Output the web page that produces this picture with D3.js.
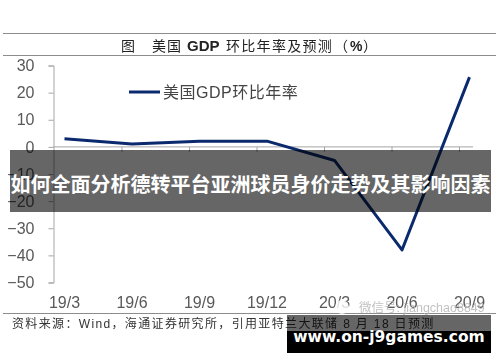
<!DOCTYPE html>
<html>
<head>
<meta charset="utf-8">
<script src="https://cdn.jsdelivr.net/npm/d3@7"></script>
<style>
  html, body { margin: 0; padding: 0; background: #fff; }
  svg { display: block; }
  text { font-family: "Liberation Sans", "Noto Sans CJK SC", sans-serif; }
</style>
</head>
<body>
<div id="chart"></div>
<script>
// values
const quarters = ["19/3", "19/6", "19/9", "19/12", "20/3", "20/6", "20/9"];
const gdpRate = [3, 1.1, 2.1, 2.1, -5, -38, 25.7];
const yTicks = [30, 20, 10, 0, -10, -20, -30, -40, -50];

const width = 500, height = 362;

const svg = d3.select("#chart").append("svg")
  .attr("width", width)
  .attr("height", height);

// the source picture is a soft screenshot, overlays on top stay sharp
const chart = svg.append("g").style("filter", "blur(0.4px)");

const x = d3.scalePoint().domain(quarters).range([64.5, 469.5]);
const y = d3.scaleLinear().domain([-50, 30]).range([282.5, 65.5]);

// Rules around the title and under the chart
[33.5, 55.5, 313.5].forEach(ry => {
  chart.append("line")
    .attr("x1", 3).attr("x2", 496)
    .attr("y1", ry).attr("y2", ry)
    .attr("stroke", "#8c8c8c")
    .attr("stroke-width", 1.2);
});

// Title
const title = chart.append("text")
  .attr("y", 51)
  .attr("font-size", 14)
  .attr("fill", "#222");
title.append("tspan").attr("x", 121).text("图");
title.append("tspan").attr("x", 152).attr("letter-spacing", 1).text("美国");
title.append("tspan").attr("x", 187).attr("font-weight", "bold").attr("font-size", 15).text("GDP");
title.append("tspan").attr("x", 226).attr("letter-spacing", 1.3).text("环比年率及预测");
title.append("tspan").attr("x", 334).text("（");
title.append("tspan").attr("x", 350).attr("font-weight", "bold").attr("font-size", 14).text("%");
title.append("tspan").attr("x", 363).text("）");

// Y axis
const yAxis = chart.append("g")
  .attr("transform", "translate(53.5,0)")
  .call(d3.axisLeft(y).tickValues(yTicks).tickSize(5).tickPadding(14));
yAxis.selectAll("path, line").attr("stroke", "#a6a6a6");
yAxis.selectAll("text").attr("font-size", 16).attr("fill", "#595959");

// X axis line at zero, tick marks sit between the labels
const xAxis = chart.append("g")
  .attr("transform", `translate(0,${y(0)})`);
xAxis.append("line")
  .attr("x1", 53).attr("x2", 473)
  .attr("stroke", "#a6a6a6");
xAxis.selectAll(".xtick")
  .data(quarters.slice(0, 6))
  .enter()
  .append("line")
  .attr("class", "xtick")
  .attr("x1", d => x(d) + 57.5)
  .attr("x2", d => x(d) + 57.5)
  .attr("y1", 0)
  .attr("y2", 5)
  .attr("stroke", "#a6a6a6");

// X labels at the bottom of the plot
chart.append("g")
  .selectAll("text")
  .data(quarters)
  .enter()
  .append("text")
  .attr("x", d => x(d))
  .attr("y", 308)
  .attr("text-anchor", "middle")
  .attr("font-size", 16)
  .attr("fill", "#595959")
  .text(d => d);

// Line
const line = d3.line()
  .x((d, i) => x(quarters[i]))
  .y(d => y(d));

chart.append("path")
  .datum(gdpRate)
  .attr("fill", "none")
  .attr("stroke", "#0b2a6e")
  .attr("stroke-width", 3)
  .attr("stroke-linejoin", "round")
  .attr("d", line);

// Legend
chart.append("line")
  .attr("x1", 129).attr("x2", 160)
  .attr("y1", 92).attr("y2", 92)
  .attr("stroke", "#0b2a6e")
  .attr("stroke-width", 3);
chart.append("text")
  .attr("x", 163)
  .attr("y", 97.5)
  .attr("font-size", 16)
  .attr("letter-spacing", 0.5)
  .attr("fill", "#444")
  .text("美国GDP环比年率");

// Source note
chart.append("text")
  .attr("x", 12)
  .attr("y", 328)
  .attr("font-size", 12)
  .attr("letter-spacing", 1.35)
  .attr("fill", "#333")
  .text("资料来源：Wind，海通证券研究所，引用亚特兰大联储 8 月 18 日预测");

// Watermark
chart.append("text")
  .attr("x", 359)
  .attr("y", 312)
  .attr("font-size", 12.5)
  .attr("fill", "#bbb")
  .attr("opacity", 0.9)
  .text("微信号: jiangchao8849");
chart.append("circle").attr("cx", 342).attr("cy", 307).attr("r", 7).attr("fill", "#fff").attr("opacity", 0.8);

// Headline band over the chart
svg.append("rect")
  .attr("x", 10).attr("y", 150)
  .attr("width", 481).attr("height", 62)
  .attr("fill", "#000")
  .attr("opacity", 0.6);
svg.append("text")
  .attr("x", 250.5)
  .attr("y", 191.5)
  .attr("text-anchor", "middle")
  .attr("font-size", 20)
  .attr("font-weight", "bold")
  .attr("fill", "#fff")
  .text("如何全面分析德转平台亚洲球员身价走势及其影响因素");

// Site badge bottom right
svg.append("rect")
  .attr("x", 287).attr("y", 315)
  .attr("width", 204).attr("height", 16)
  .attr("fill", "#000")
  .attr("opacity", 0.6);
svg.append("rect")
  .attr("x", 287).attr("y", 331)
  .attr("width", 204).attr("height", 22)
  .attr("fill", "#000");
svg.append("text")
  .attr("x", 389)
  .attr("y", 337)
  .attr("dy", "0.35em")
  .attr("text-anchor", "middle")
  .attr("font-size", 15.5)
  .attr("font-weight", "bold")
  .style("font-family", "'DejaVu Sans', sans-serif")
  .attr("fill", "#fff")
  .text("www.on-j9games.com");
</script>
</body>
</html>
